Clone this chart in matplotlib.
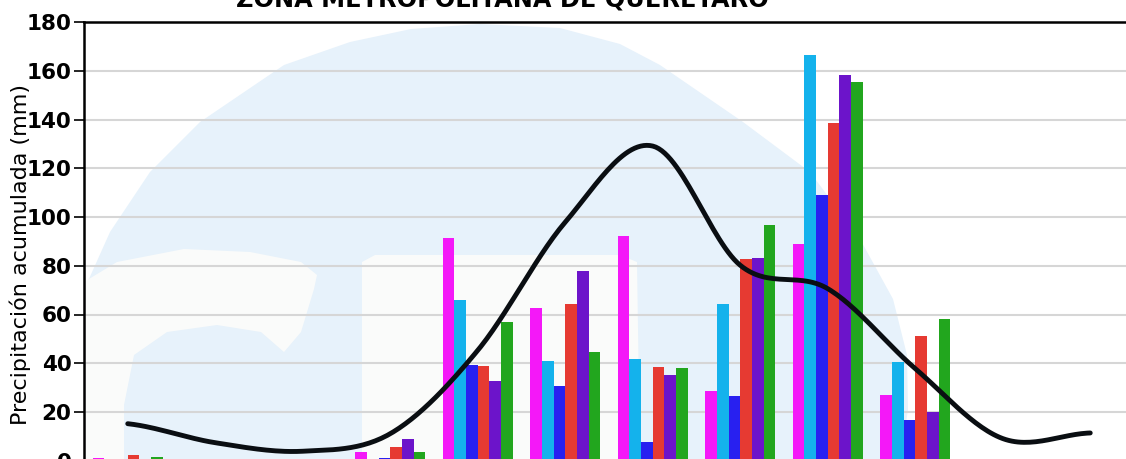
import numpy as np
import matplotlib.pyplot as plt
from matplotlib.patches import Polygon
from matplotlib.transforms import Affine2D

# precipitacion mensual acumulada (mm), 6 series + promedio
meses = np.arange(12)
serie_1 = [1.3, 0, 0, 3.5, 91.5, 62.8, 92.3, 28.7, 88.8, 27.0, 0, 0.5]
serie_2 = [0, 0, 0, 0, 66.0, 40.9, 41.6, 64.3, 166.6, 40.7, 0.5, 0]
serie_3 = [0, 0, 0, 1.3, 39.3, 30.7, 7.8, 26.6, 109.2, 16.6, 0, 0]
serie_4 = [2.4, 0, 0, 5.8, 39.0, 64.3, 38.6, 82.6, 138.6, 51.3, 0, 0]
serie_5 = [0, 0, 0, 8.9, 32.7, 77.8, 35.2, 83.0, 158.3, 20.1, 0, 0]
serie_6 = [1.5, 0, 0, 3.5, 56.9, 44.5, 38.2, 96.6, 155.3, 58.0, 0.5, 0]
promedio = [15.2, 7.4, 3.9, 11.1, 45.3, 97.9, 129.1, 80.2, 70.6, 37.8, 9.1, 11.4]

series = [serie_1, serie_2, serie_3, serie_4, serie_5, serie_6]
colores = ['#F418F8', '#14B2EC', '#2820F0', '#E63A32', '#6C14CA', '#22A61E']

W, H = 1126, 459
fig = plt.figure(figsize=(W / 100, H / 100), dpi=100)
ax = fig.add_axes([84 / W, -1.75 / H, 1050 / W, 438.75 / H])

# watermark (logo) in pixel coords
px = Affine2D().scale(1 / W, -1 / H).translate(0, 1) + fig.transFigure
domo = [(84, 290), (110, 232), (150, 172), (200, 122), (284, 65), (350, 42), (411, 29),
        (480, 24), (560, 28), (620, 44), (660, 65), (743, 122), (810, 172), (860, 239),
        (893, 299), (907, 355), (908, 410), (900, 461), (84, 461)]
banda = [(84, 282), (117, 262), (184, 249), (250, 252), (301, 262), (317, 275), (314, 289),
         (301, 332), (284, 352), (261, 332), (217, 325), (167, 332), (134, 355), (124, 405),
         (124, 461), (84, 461)]
bloque = [(362, 461), (362, 262), (375, 255), (620, 255), (637, 262), (640, 461)]
ax.add_patch(Polygon(domo, closed=True, transform=px, fc='#E7F2FB', ec='none', zorder=0.2))
ax.add_patch(Polygon(banda, closed=True, transform=px, fc='#FAFBFA', ec='none', zorder=0.3))
ax.add_patch(Polygon(bloque, closed=True, transform=px, fc='#FAFBFA', ec='none', zorder=0.3))

ancho = 0.8 / 6
for j, (s, c) in enumerate(zip(series, colores)):
    ax.bar(meses - 0.4 + (j + 0.5) * ancho, s, width=ancho, color=c, zorder=2)

# linea suavizada (catmull-rom) del promedio
p = np.array(promedio, dtype=float)
pe = np.concatenate([[p[0]], p, [p[-1]]])
xs, ys = [], []
for i in range(len(p) - 1):
    m0 = (pe[i + 2] - pe[i]) / 2
    m1 = (pe[i + 3] - pe[i + 1]) / 2
    t = np.linspace(0, 1, 30)
    h00 = 2 * t**3 - 3 * t**2 + 1
    h10 = t**3 - 2 * t**2 + t
    h01 = -2 * t**3 + 3 * t**2
    h11 = t**3 - t**2
    xs.append(i + t)
    ys.append(h00 * p[i] + h10 * m0 + h01 * p[i + 1] + h11 * m1)
ax.plot(np.concatenate(xs), np.concatenate(ys), color='#0A0E12', lw=3.5,
        solid_capstyle='round', zorder=3)

ax.set_xlim(-0.5, 11.5)
ax.set_ylim(0, 180)
ax.set_yticks(np.arange(0, 181, 20))
ax.set_xticks([])
ax.set_axisbelow(True)
ax.yaxis.grid(True, color='#D6D6D6', lw=1.5, zorder=0.5)
for lbl in ax.get_yticklabels():
    lbl.set_fontweight('bold')
ax.tick_params(axis='y', labelsize=15.5, length=7, width=1.2, pad=2)
for k in ['right', 'bottom']:
    ax.spines[k].set_visible(False)
ax.spines['left'].set_linewidth(1.8)
ax.spines['top'].set_linewidth(1.8)
ax.set_ylabel('Precipitación acumulada (mm)', fontsize=16)
ax.yaxis.set_label_coords((31 - 84) / 1050, 0.47)

fig.text(502 / W, 1 - 6 / H, 'ZONA METROPOLITANA DE QUERÉTARO', ha='center', va='baseline',
         fontsize=17.3, fontweight='bold')

fig.savefig('out.png', dpi=100)
